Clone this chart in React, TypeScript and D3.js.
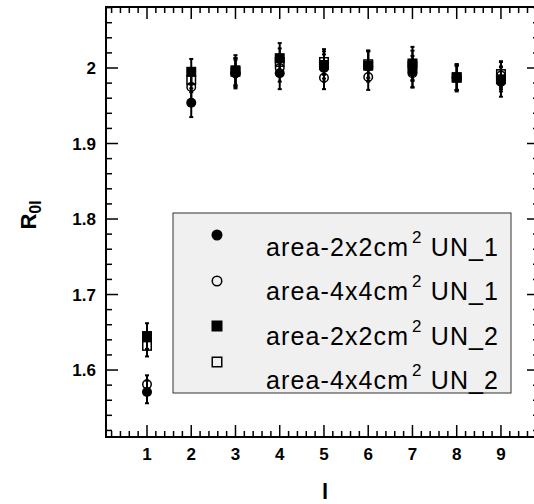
import React from "react";
import * as d3 from "d3";

const xs = [1, 2, 3, 4, 5, 6, 7, 8, 9];
// R_0l for each set
const s2x2un1 = [1.571, 1.954, 1.993, 1.993, 2.0, 2.002, 1.995, 1.987, 1.982];
const s4x4un1 = [1.581, 1.975, 1.993, 2.0, 1.987, 1.988, 1.993, 1.987, 1.99];
const s2x2un2 = [1.645, 1.995, 1.997, 2.013, 2.004, 2.003, 2.006, 1.988, 1.985];
const s4x4un2 = [1.632, 1.984, 1.995, 2.008, 2.008, 2.005, 2.003, 1.987, 1.992];
const e2x2un1 = [0.015, 0.019, 0.02, 0.021, 0.018, 0.02, 0.021, 0.018, 0.02];
const e4x4un1 = [0.012, 0.017, 0.018, 0.018, 0.015, 0.017, 0.018, 0.016, 0.018];
const e2x2un2 = [0.017, 0.017, 0.02, 0.02, 0.018, 0.02, 0.022, 0.017, 0.016];
const e4x4un2 = [0.014, 0.016, 0.018, 0.018, 0.017, 0.018, 0.02, 0.016, 0.017];
const labels = ["area-2x2cm", "area-4x4cm", "area-2x2cm", "area-4x4cm"];
const suffixes = ["UN_1", "UN_1", "UN_2", "UN_2"];
const yTicks = [1.6, 1.7, 1.8, 1.9, 2.0];

const W = 534;
const H = 504;
const font = "'Liberation Sans', Arial, Helvetica, sans-serif";

const left = 106, right = 539, top = 7, bottom = 437;

export default function App() {
  const x = d3.scaleLinear().domain([0.0734, 9.86]).range([left, right]);
  const y = d3.scaleLinear().domain([1.5113, 2.0808]).range([bottom, top]);

  const series = [
    { v: s2x2un1, e: e2x2un1, shape: "circle", filled: true },
    { v: s4x4un1, e: e4x4un1, shape: "circle", filled: false },
    { v: s2x2un2, e: e2x2un2, shape: "square", filled: true },
    { v: s4x4un2, e: e4x4un2, shape: "square", filled: false },
  ];

  const xMinor = d3.range(0.2, 9.85, 0.2);
  const yMinor = d3.range(1.52, 2.081, 0.02);

  const marker = (shape: string, filled: boolean, cx: number, cy: number, k: string, sz = 10) =>
    shape === "circle" ? (
      <circle key={k} cx={cx} cy={cy} r={sz / 2 - (filled ? 0 : 0.75)}
        fill={filled ? "#000" : "none"} stroke="#000" strokeWidth={filled ? 0 : 1.5} />
    ) : (
      <rect key={k} x={cx - sz / 2 + (filled ? 0 : 0.75)} y={cy - sz / 2 + (filled ? 0 : 0.75)}
        width={sz - (filled ? 0 : 1.5)} height={sz - (filled ? 0 : 1.5)}
        fill={filled ? "#000" : "none"} stroke="#000" strokeWidth={filled ? 0 : 1.5} />
    );

  const legendMarkY = [235, 281, 326, 362];
  const legendTextY = [256, 300, 345, 389];

  return (
    <svg width={W} height={H} style={{ position: "absolute", left: 0, top: 0, background: "#fff" }}
      fontFamily={font}>
      {/* frame */}
      <rect x={left} y={top} width={right - left} height={bottom - top} fill="none" stroke="#000" strokeWidth={2} />

      {/* x ticks, bottom and top */}
      {xMinor.map((t, i) => {
        const major = Math.abs(t - Math.round(t)) < 1e-6;
        const len = major ? 12 : 6;
        return (
          <g key={"xt" + i} stroke="#000" strokeWidth={1.5}>
            <line x1={x(t)} x2={x(t)} y1={bottom} y2={bottom - len} />
            <line x1={x(t)} x2={x(t)} y1={top} y2={top + len} />
          </g>
        );
      })}
      {yMinor.map((t, i) => {
        const major = Math.abs(t * 10 - Math.round(t * 10)) < 1e-6;
        const len = major ? 12 : 6;
        return (
          <g key={"yt" + i} stroke="#000" strokeWidth={1.5}>
            <line x1={left} x2={left + len} y1={y(t)} y2={y(t)} />
            <line x1={right} x2={right - len} y1={y(t)} y2={y(t)} />
          </g>
        );
      })}

      {/* tick labels */}
      {xs.map((t) => (
        <text key={"xl" + t} x={x(t)} y={460} textAnchor="middle" fontSize={17} fontWeight="bold">{t}</text>
      ))}
      {yTicks.map((t) => (
        <text key={"yl" + t} x={96} y={y(t) + 6} textAnchor="end" fontSize={17} fontWeight="bold">
          {d3.format("")(+t.toFixed(1))}
        </text>
      ))}

      {/* axis titles */}
      <text x={325} y={499} textAnchor="middle" fontSize={22} fontWeight="bold">l</text>
      <text transform="translate(36,215) rotate(-90)" textAnchor="middle" fontSize={22} fontWeight="bold">
        R<tspan fontSize={16} dy={5}>0l</tspan>
      </text>

      {/* legend */}
      <rect x={173} y={213} width={338} height={180} fill="#f0f0f0" stroke="#333" strokeWidth={1} />
      {series.map((s, i) => (
        <g key={"lg" + i}>
          {marker(s.shape, s.filled, 217, legendMarkY[i], "lm" + i, 11)}
          <text x={266} y={legendTextY[i]} fontSize={25} textLength={232} lengthAdjust="spacing">
            {labels[i]}
            <tspan fontSize={17} dx={3} dy={-13}>2</tspan>
            <tspan dy={13}>{" " + suffixes[i]}</tspan>
          </text>
        </g>
      ))}

      {/* data */}
      {series.map((s, si) => (
        <g key={"s" + si}>
          {xs.map((t, i) => {
            const cx = x(t);
            const y0 = y(s.v[i] - s.e[i]);
            const y1 = y(s.v[i] + s.e[i]);
            return (
              <g key={i} stroke="#000" strokeWidth={2}>
                <line x1={cx} x2={cx} y1={y0} y2={y1} />
                <line x1={cx - 2} x2={cx + 2} y1={y0} y2={y0} />
                <line x1={cx - 2} x2={cx + 2} y1={y1} y2={y1} />
              </g>
            );
          })}
          {xs.map((t, i) => marker(s.shape, s.filled, x(t), y(s.v[i]), "m" + si + i, 10))}
        </g>
      ))}
    </svg>
  );
}
